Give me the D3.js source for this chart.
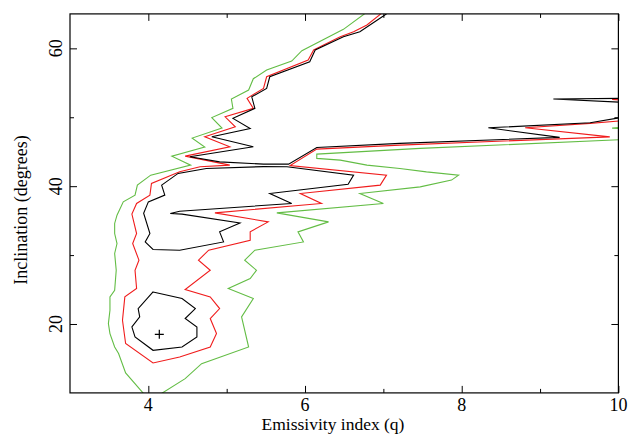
<!DOCTYPE html>
<html>
<head>
<meta charset="utf-8">
<script src="https://cdn.jsdelivr.net/npm/d3@7"></script>
<style>
  html, body { margin: 0; padding: 0; background: #fff; font-family: 'Liberation Serif', 'Times New Roman', serif; }
  svg { display: block; }
  svg text { font-family: 'Liberation Serif', 'Times New Roman', serif; }
</style>
</head>
<body>
<svg id="chart" width="638" height="435"></svg>
<script>
// ---- Data (emissivity index q, inclination in degrees) ----
const xTicksMajor = [4, 6, 8, 10];
const xTicksMinor = [5, 7, 9];
const yTicksMajor = [20, 40, 60];
const yTicksMinor = [30, 50];
const xLabel = "Emissivity index (q)";
const yLabel = "Inclination (degrees)";
const bestFit = [4.14, 18.5];

// outermost contour (green)
const greenMain = [
  [6.83,65.6],[6.49,62.76],[5.96,59.66],[5.83,58.16],[5.51,56.85],[5.34,55.59],[5.28,53.95],
  [5.06,52.64],[5.08,51.29],[4.81,49.95],[4.94,48.43],[4.56,46.98],[4.72,45.67],[4.30,44.36],
  [4.54,43.05],[4.03,41.60],[3.86,40.15],[3.83,38.70],[3.68,37.72],[3.60,35.79],[3.57,34.59],
  [3.57,33.13],[3.60,31.68],[3.57,30.23],[3.59,27.80],[3.57,24.90],[3.51,23.93],[3.51,21.99],
  [3.49,20.06],[3.51,18.61],[3.57,16.66],[3.62,15.71],[3.71,12.89],[3.97,9.5]
];
const greenRight = [
  [4.11,9.5],[4.47,12.07],[4.68,14.25],[5.28,16.66],[5.19,21.02],[5.34,23.69],[5.02,25.15],
  [5.30,26.60],[5.38,27.80],[5.23,29.26],[5.36,30.71],[5.98,31.91],[5.91,33.37],[6.30,34.82],
  [5.64,36.13],[7.00,37.49],[6.70,38.94],[7.47,39.90],[7.87,40.88],[7.96,41.60],[7.55,42.08],
  [7.21,42.57],[6.79,43.05],[6.45,43.78],[6.15,44.03],[6.15,44.65],[7.47,45.48],[10.05,46.76]
];
const greenSliver = [[10.05,48.52],[9.92,48.43],[10.05,48.36]];

// middle contour (red)
const redMain = [
  [7.03,65.57],[6.79,63.39],[6.62,62.41],[6.45,61.69],[6.11,59.76],[6.04,58.30],[5.51,55.88],
  [5.47,54.19],[5.26,52.74],[5.34,51.29],[4.98,50.07],[5.11,48.62],[4.72,47.16],[5.04,45.71],
  [4.47,44.36],[5.04,43.05],[4.66,42.81],[4.40,42.08],[4.04,40.40],[4.02,38.70],[3.85,37.49],
  [3.79,35.94],[3.85,33.13],[3.80,31.68],[3.88,29.26],[3.83,27.80],[3.85,25.15],[3.70,23.93],
  [3.67,20.54],[3.71,17.16],[4.06,14.34],[4.40,15.21],[4.79,16.66],[4.87,18.61],[4.79,20.79],
  [4.91,22.24],[4.79,23.93],[4.47,25.00],[4.79,27.80],[4.64,29.26],[4.77,30.71],[5.30,32.16],
  [5.30,33.37],[5.53,34.82],[4.85,36.13],[6.21,37.49],[5.94,38.94],[6.96,40.15],[7.04,41.60],
  [5.81,42.98],[6.15,45.38],[7.21,45.96],[9.89,47.16],[8.81,48.47],[9.64,49.11],[10.05,49.50]
];
const redSliver = [[10.05,52.67],[9.92,52.60],[10.05,52.48]];

// inner contour (black)
const blackUpper = [
  [7.11,65.57],[7.00,64.69],[6.70,62.41],[6.49,61.69],[6.13,59.76],[6.06,58.06],[5.55,55.88],
  [5.51,54.19],[5.32,52.97],[5.36,51.29],[5.08,49.84],[5.30,48.38],[4.81,47.16],[5.34,45.71],
  [4.53,44.26],[4.91,43.53],[5.47,43.20],[5.79,43.20],[6.15,45.62],[7.21,46.21],[9.25,47.08],
  [8.34,48.47],[9.64,49.20],[10.05,50.0]
];
const blackSliver = [[10.05,52.74],[9.17,52.64],[10.05,52.18]];
const blackLobe = [
  [4.17,40.15],[4.38,41.85],[4.74,42.57],[5.47,42.84],[5.77,42.81],[6.62,41.60],[6.55,40.29],
  [5.55,38.94],[5.83,37.49],[4.40,36.37],[4.28,36.04],[4.43,35.94],[5.17,34.67],[4.91,33.37],
  [4.96,31.91],[4.40,30.71],[4.06,30.81],[3.96,31.91],[4.02,33.13],[3.94,36.08],[4.00,37.72],
  [4.21,38.70]
];
const blackLoop = [
  [4.06,24.65],[4.43,23.69],[4.60,22.24],[4.47,20.79],[4.62,19.57],[4.62,18.12],[4.43,16.66],
  [4.06,16.18],[3.83,18.12],[3.79,19.57],[3.89,21.02],[3.87,22.24]
];

const GREEN = "#63bd45", RED = "#f01c1c", BLACK = "#000000";
const FONT = "'Liberation Serif', 'Times New Roman', serif";
const contours = [
  { pts: greenMain, color: GREEN, closed: false },
  { pts: greenRight, color: GREEN, closed: false },
  { pts: greenSliver, color: GREEN, closed: false },
  { pts: redMain, color: RED, closed: false },
  { pts: redSliver, color: RED, closed: false },
  { pts: blackUpper, color: BLACK, closed: false },
  { pts: blackSliver, color: BLACK, closed: false },
  { pts: blackLobe, color: BLACK, closed: true },
  { pts: blackLoop, color: BLACK, closed: true }
];

// ---- Layout ----
const L = 70, R = 618.4, T = 13.9, B = 392.9;
const x = d3.scaleLinear().domain([3, 10]).range([L, R]);
const y = d3.scaleLinear().domain([10, 65]).range([B, T]);

const svg = d3.select("#chart");

svg.append("defs").append("clipPath").attr("id", "plotclip")
  .append("rect").attr("x", L).attr("y", T).attr("width", R - L).attr("height", B - T);

const plot = svg.append("g").attr("clip-path", "url(#plotclip)");
const lineOpen = d3.line().x(d => x(d[0])).y(d => y(d[1]));
const lineClosed = d3.line().x(d => x(d[0])).y(d => y(d[1])).curve(d3.curveLinearClosed);

contours.forEach(c => {
  plot.append("path")
    .attr("d", (c.closed ? lineClosed : lineOpen)(c.pts))
    .attr("fill", "none")
    .attr("stroke", c.color)
    .attr("stroke-width", 1.1)
    .attr("stroke-linejoin", "miter");
});

// best-fit cross
const cs = 4.5;
plot.append("path")
  .attr("d", `M${x(bestFit[0]) - cs},${y(bestFit[1])}H${x(bestFit[0]) + cs}M${x(bestFit[0])},${y(bestFit[1]) - cs}V${y(bestFit[1]) + cs}`)
  .attr("stroke", BLACK).attr("stroke-width", 1.2).attr("fill", "none");

// ---- Axes (ticks inward on all four sides) ----
function addAxis(axisGen, transform) {
  const g = svg.append("g").attr("transform", transform).call(axisGen);
  g.select(".domain").remove();
  g.selectAll("line").attr("stroke", "#000").attr("stroke-width", 1);
  g.selectAll("text").remove();
  return g;
}
addAxis(d3.axisBottom(x).tickValues(xTicksMajor).tickSize(-7), `translate(0,${B})`);
addAxis(d3.axisBottom(x).tickValues(xTicksMinor).tickSize(-4), `translate(0,${B})`);
addAxis(d3.axisTop(x).tickValues(xTicksMajor).tickSize(-7), `translate(0,${T})`);
addAxis(d3.axisTop(x).tickValues(xTicksMinor).tickSize(-4), `translate(0,${T})`);
addAxis(d3.axisLeft(y).tickValues(yTicksMajor).tickSize(-7), `translate(${L},0)`);
addAxis(d3.axisLeft(y).tickValues(yTicksMinor).tickSize(-4), `translate(${L},0)`);
addAxis(d3.axisRight(y).tickValues(yTicksMajor).tickSize(-7), `translate(${R},0)`);
addAxis(d3.axisRight(y).tickValues(yTicksMinor).tickSize(-4), `translate(${R},0)`);

// frame
svg.append("rect").attr("x", L).attr("y", T).attr("width", R - L).attr("height", B - T)
  .attr("fill", "none").attr("stroke", "#000").attr("stroke-width", 1.2);

// tick labels
svg.append("g").selectAll("text").data(xTicksMajor).join("text")
  .attr("x", d => x(d)).attr("y", 411)
  .attr("text-anchor", "middle").attr("font-size", 18).style("font-family", FONT)
  .text(d => d);

svg.append("g").selectAll("text").data(yTicksMajor).join("text")
  .attr("transform", d => `translate(62,${y(d)}) rotate(-90)`)
  .attr("text-anchor", "middle").attr("font-size", 18).style("font-family", FONT)
  .text(d => d);

// axis titles
svg.append("text").attr("x", 333).attr("y", 430)
  .attr("text-anchor", "middle").attr("font-size", 17.5).style("font-family", FONT).text(xLabel);
svg.append("text").attr("transform", `translate(27,210) rotate(-90)`)
  .attr("text-anchor", "middle").attr("font-size", 18).style("font-family", FONT).text(yLabel);
</script>
</body>
</html>
